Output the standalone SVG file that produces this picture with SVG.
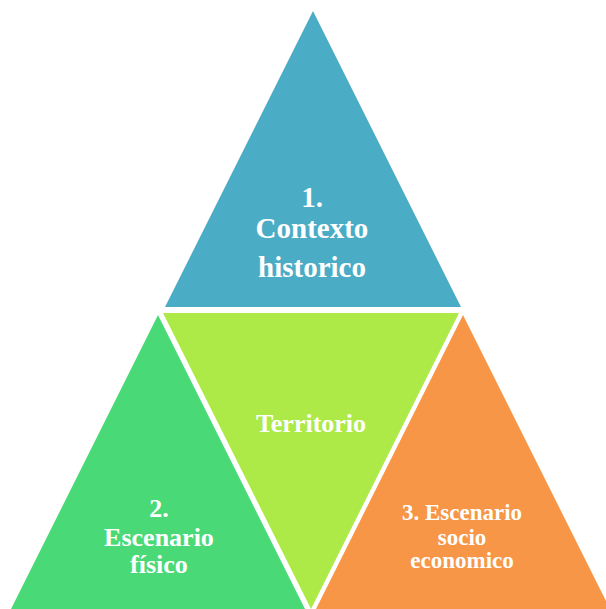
<svg xmlns="http://www.w3.org/2000/svg" width="606" height="609" viewBox="0 0 606 609">
<style>
text{font-family:"Liberation Serif","Times New Roman",serif;font-weight:bold;fill:#fff;text-anchor:middle}
.t1{font-size:29px}
.t2{font-size:26px}
.t3{font-size:23px}
</style>
<rect width="606" height="609" fill="#fff"/>
<g id="connectors"/>
<g id="node-contexto">
<polygon points="313,11 165,307 461,307" fill="#4BACC6"/>
<text class="t1" x="312" y="207">1.</text>
<text class="t1" x="312" y="238">Contexto</text>
<text class="t1" x="312" y="277">historico</text>
</g>
<g id="node-territorio">
<polygon points="163,313 459,313 311,609" fill="#ADEA47"/>
<text class="t2" x="311" y="432">Territorio</text>
</g>
<g id="node-fisico">
<polygon points="158,315 11,609 305,609" fill="#4AD977"/>
<text class="t2" x="159" y="517">2.</text>
<text class="t2" x="159" y="546">Escenario</text>
<text class="t2" x="159" y="573">físico</text>
</g>
<g id="node-socio">
<polygon points="463,315 316,609 610,609" fill="#F79646"/>
<text class="t3" x="462" y="520">3. Escenario</text>
<text class="t3" x="462" y="545">socio</text>
<text class="t3" x="462" y="568">economico</text>
</g>
</svg>
